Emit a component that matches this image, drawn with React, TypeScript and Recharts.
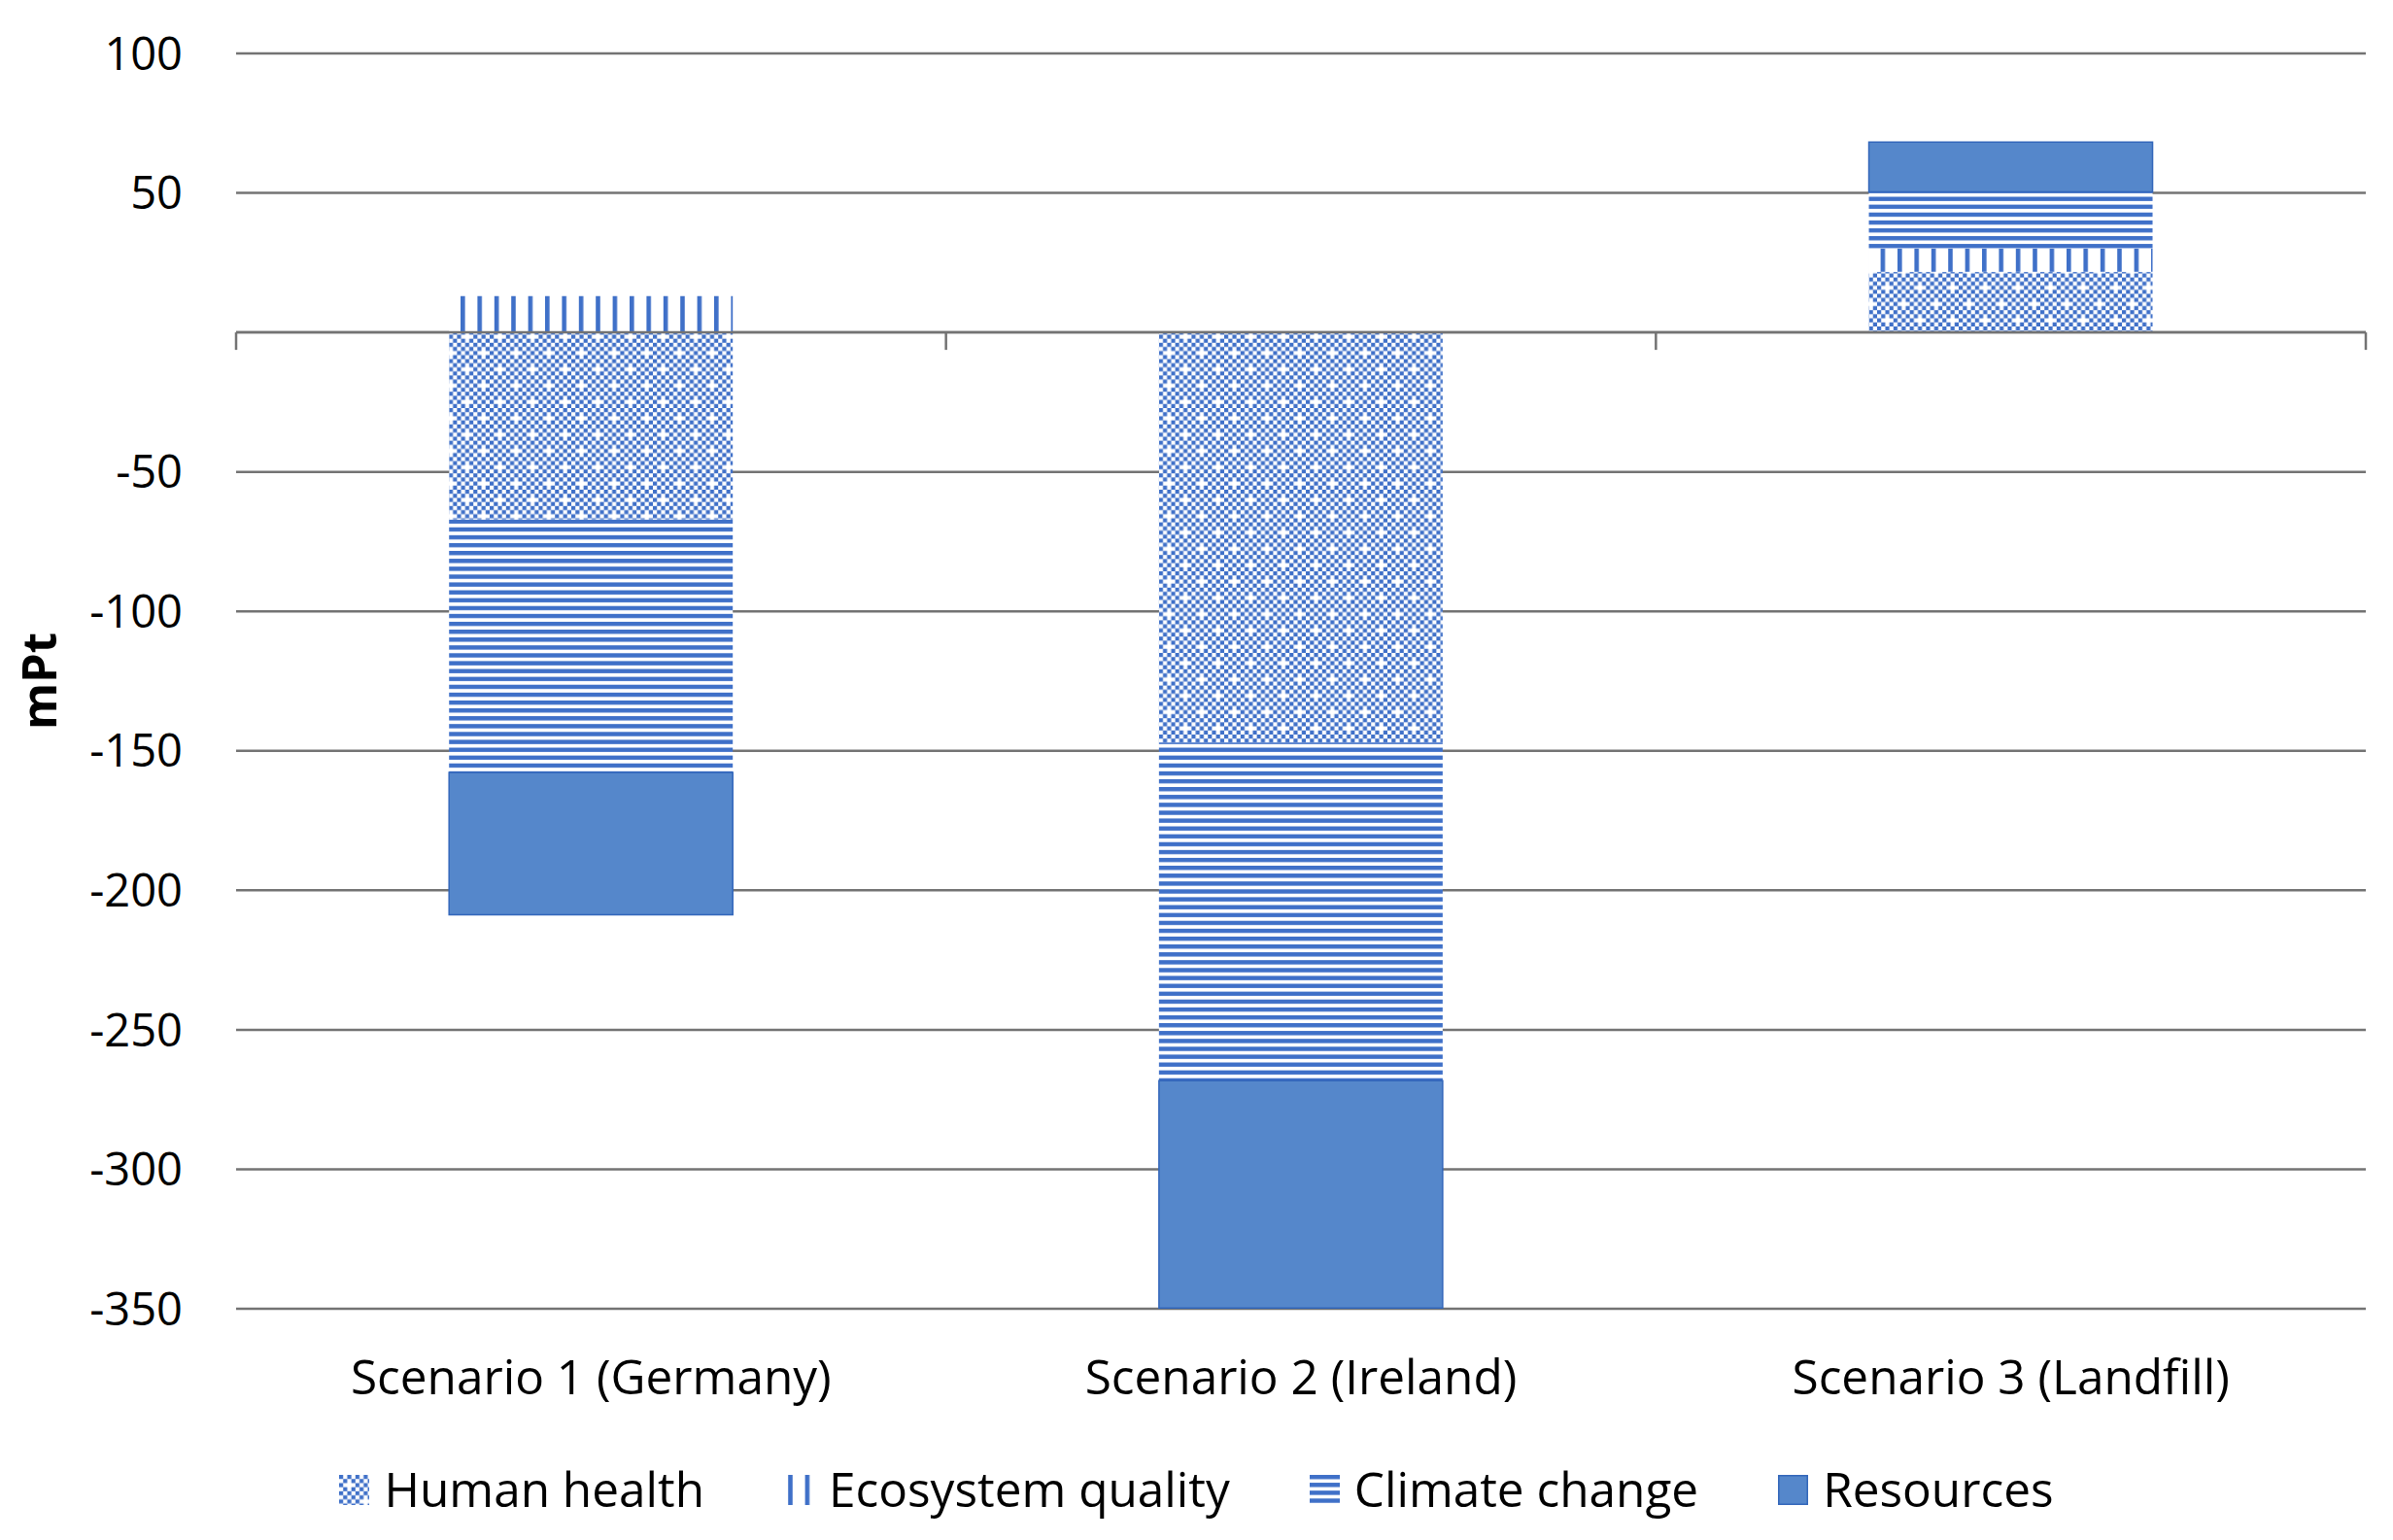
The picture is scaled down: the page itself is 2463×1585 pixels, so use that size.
import React from 'react';
import { BarChart, Bar, XAxis, YAxis, CartesianGrid, ReferenceLine, Legend } from 'recharts';

const categories = ['Scenario 1 (Germany)', 'Scenario 2 (Ireland)', 'Scenario 3 (Landfill)'];
const humanHealth = [-67.1, -147.0, 21.7];
const ecosystemQuality = [13.0, 0, 8.4];
const climateChange = [-90.6, -121.2, 20.3];
const resources = [-51.1, -81.5, 17.8];
const yTicks = [100, 50, 0, -50, -100, -150, -200, -250, -300, -350];
const seriesNames = ['Human health', 'Ecosystem quality', 'Climate change', 'Resources'];
const seriesKeys = ['hh', 'eq', 'cc', 'res'];

const data = categories.map((name, i) => ({
  name,
  hh: humanHealth[i],
  eq: ecosystemQuality[i],
  cc: climateChange[i],
  res: resources[i],
}));

const W = 2463;
const H = 1585;
const BLUE = '#3f70c8';
const SOLID = '#5587cb';
const SOLID_STROKE = '#3266ba';
const FONT = '"Open Sans", "Noto Sans", sans-serif';
const FS = 47;
const FS_TEXT = 49.5;

const fills = ['url(#hhPat)', 'url(#eqPat)', 'url(#ccPat)', SOLID];

const CELL = 4.2;
const hhCells: JSX.Element[] = [];
for (let r = 0; r < 8; r++) {
  for (let c = 0; c < 8; c++) {
    if ((r + c) % 2 === 0 && !((r === 2 && c === 2) || (r === 6 && c === 6))) {
      hhCells.push(<rect key={`${r}-${c}`} x={c * CELL} y={r * CELL} width={CELL} height={CELL} fill={BLUE} />);
    }
  }
}

const PatternDefs = () => (
  <svg width={0} height={0} style={{ position: 'absolute', left: 0, top: 0 }}>
    <defs>
      <pattern id="hhPat" patternUnits="userSpaceOnUse" width={8 * CELL} height={8 * CELL}>
        <rect x={0} y={0} width={8 * CELL} height={8 * CELL} fill="#ffffff" />
        {hhCells}
      </pattern>
      <pattern id="eqPat" patternUnits="userSpaceOnUse" x={474} width={17.4} height={10}>
        <rect x={0} y={0} width={17.4} height={10} fill="#ffffff" />
        <rect x={0} y={0} width={4.6} height={10} fill={BLUE} />
      </pattern>
      <pattern id="ccPat" patternUnits="userSpaceOnUse" width={10} height={8.1}>
        <rect x={0} y={0} width={10} height={8.1} fill="#ffffff" />
        <rect x={0} y={0} width={10} height={4.4} fill={BLUE} />
      </pattern>
    </defs>
  </svg>
);

const ZeroAxis = (props: any) => {
  const { x1, y1, x2 } = props;
  const n = categories.length;
  const ticks = [];
  for (let i = 0; i <= n; i++) {
    const x = x1 + (i * (x2 - x1)) / n;
    ticks.push(<line key={i} x1={x} x2={x} y1={y1} y2={y1 + 18} stroke="#737373" strokeWidth={2.5} />);
  }
  return (
    <g>
      <line x1={x1} x2={x2} y1={y1} y2={y1} stroke="#737373" strokeWidth={2.5} />
      {ticks}
    </g>
  );
};

const LegendContent = () => (
  <div
    style={{
      display: 'flex',
      justifyContent: 'center',
      alignItems: 'center',
      height: 80,
      width: W,
      fontFamily: FONT,
      fontSize: FS_TEXT,
      lineHeight: 1,
      color: '#000',
    }}
  >
    {seriesNames.map((name, i) => (
      <div key={name} style={{ display: 'flex', alignItems: 'center', marginLeft: i === 0 ? 0 : 82 }}>
        <svg width={31} height={31} style={{ display: 'block' }}>
          <rect
            x={i === 3 ? 0.75 : 0}
            y={i === 3 ? 0.75 : 0}
            width={i === 3 ? 29.5 : 31}
            height={i === 3 ? 29.5 : 31}
            fill={fills[i]}
            stroke={i === 3 ? SOLID_STROKE : 'none'}
            strokeWidth={1.5}
          />
        </svg>
        <span style={{ marginLeft: 15, whiteSpace: 'nowrap' }}>{name}</span>
      </div>
    ))}
  </div>
);

const YLabel = (props: any) => {
  const vb = props.viewBox || { x: 0, y: 55, width: 243, height: 1292 };
  const cx = vb.x + 39;
  const cy = vb.y + vb.height / 2;
  return (
    <text
      x={cx}
      y={cy}
      transform={`rotate(-90, ${cx}, ${cy})`}
      textAnchor="middle"
      dominantBaseline="central"
      fontWeight="bold"
      fontSize={49}
      fill="#000"
      fontFamily={FONT}
    >
      mPt
    </text>
  );
};

export default function App() {
  return (
    <div style={{ position: 'absolute', left: 0, top: 0, width: W, height: H, fontFamily: FONT, background: '#fff' }}>
      <PatternDefs />
      <BarChart
        width={W}
        height={H}
        data={data}
        stackOffset="sign"
        barCategoryGap="30%"
        margin={{ top: 55, right: 28, left: 0, bottom: 12 }}
      >
        <CartesianGrid vertical={false} stroke="#737373" strokeWidth={2.5} />
        <XAxis
          dataKey="name"
          axisLine={false}
          tickLine={false}
          tickSize={0}
          tickMargin={53}
          height={146}
          interval={0}
          tick={{ fontSize: FS_TEXT, fill: '#000', fontFamily: FONT }}
        />
        <YAxis
          type="number"
          domain={[-350, 100]}
          ticks={yTicks}
          interval={0}
          width={243}
          axisLine={false}
          tickLine={false}
          tickSize={0}
          tickMargin={55}
          tickFormatter={(v: number) => (v === 0 ? '' : String(v))}
          tick={{ fontSize: FS, fill: '#000', fontFamily: FONT }}
          label={{ content: (p: any) => <YLabel {...p} /> }}
        />
        {seriesKeys.map((k, i) => (
          <Bar
            key={k}
            dataKey={k}
            name={seriesNames[i]}
            stackId="a"
            fill={fills[i]}
            stroke={i === 3 ? SOLID_STROKE : 'none'}
            strokeWidth={i === 3 ? 1.5 : 0}
            isAnimationActive={false}
          />
        ))}
        <ReferenceLine y={0} shape={(p: any) => <ZeroAxis {...p} />} />
        <Legend
          verticalAlign="bottom"
          height={80}
          wrapperStyle={{ left: 0, width: W, height: 80 }}
          content={() => <LegendContent />}
        />
      </BarChart>
    </div>
  );
}
